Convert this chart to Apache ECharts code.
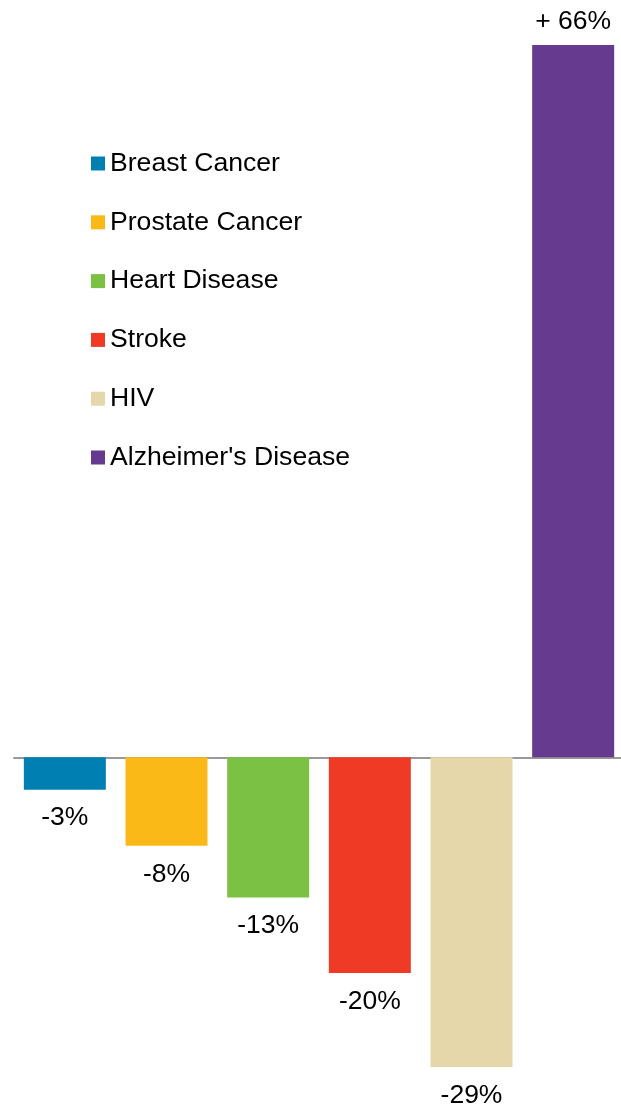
<!DOCTYPE html>
<html><head><meta charset="utf-8">
<script src="https://cdn.jsdelivr.net/npm/echarts@6/dist/echarts.min.js"></script>
<style>html,body{margin:0;padding:0;background:#fff;overflow:hidden}#c{width:624px;height:1105px}</style>
</head><body><div id="c"></div>
<script>
const categories = ["Breast Cancer","Prostate Cancer","Heart Disease","Stroke","HIV","Alzheimer's Disease"];
const values = [-3, -8.2, -13, -20, -28.7, 66];
const labels = ["-3%","-8%","-13%","-20%","-29%","+ 66%"];
const colors = ["#0080B2","#FBB917","#7BC143","#EF3A25","#E5D7A9","#663A8E"];

const FONT = "'Liberation Sans', Arial, sans-serif";
const chart = echarts.init(document.getElementById('c'));
const series = categories.map((name, i) => ({
  name: name,
  type: 'bar',
  stack: 'all',
  barWidth: 82,
  itemStyle: { color: colors[i] },
  data: categories.map((c, j) => j === i ? values[i] : '-'),
  label: {
    show: true,
    position: values[i] < 0 ? 'bottom' : 'top',
    distance: values[i] < 0 ? 15 : 10,
    formatter: () => labels[i],
    color: '#000',
    fontSize: 26.5,
    fontFamily: FONT
  }
}));
chart.setOption({
  animation: false,
  grid: { left: 14, right: 0, top: 45, bottom: 38, containLabel: false },
  legend: {
    orient: 'vertical',
    left: 86,
    top: 145,
    itemWidth: 14,
    itemHeight: 14,
    itemGap: 31.8,
    icon: 'rect',
    data: categories,
    textStyle: { fontSize: 26.6, lineHeight: 26, color: '#000', fontFamily: FONT }
  },
  xAxis: {
    type: 'category',
    data: categories,
    axisLine: { show: true, onZero: true, lineStyle: { color: '#999', width: 2 } },
    axisTick: { show: false },
    axisLabel: { show: false }
  },
  yAxis: {
    type: 'value',
    min: -28.7, max: 66,
    show: false,
    splitLine: { show: false }
  },
  series: series
});
</script></body></html>
